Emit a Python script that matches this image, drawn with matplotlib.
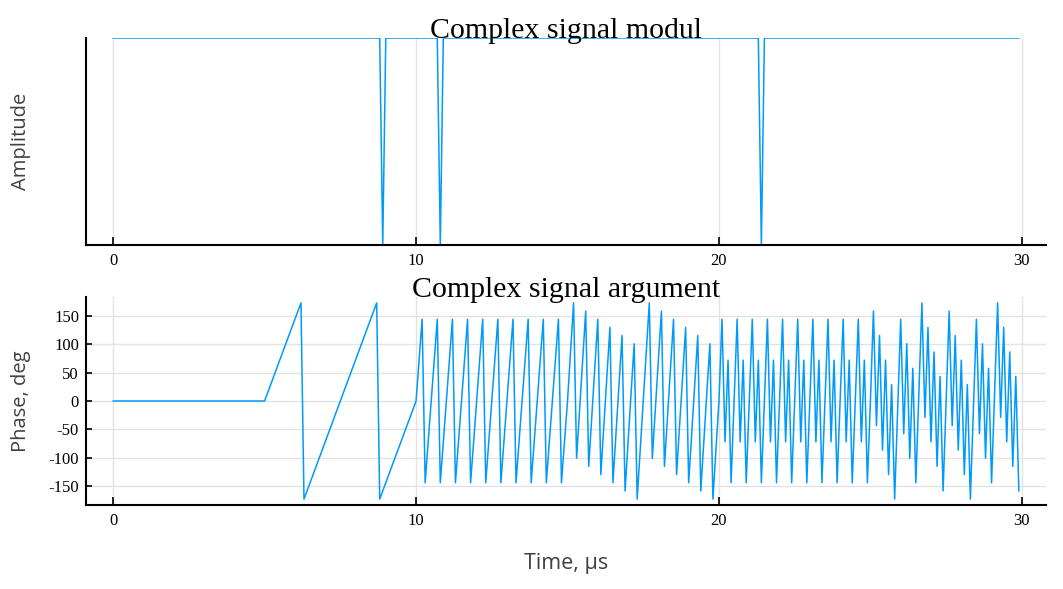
import matplotlib.pyplot as plt
import numpy as np

plt.rcParams['axes.unicode_minus'] = False

# Sampled complex signal, 0.1 us per sample, 300 samples (0 .. 29.9 us)
dt_us = 0.1
time_us = np.round(np.arange(300) * dt_us, 1)

# Samples where the modulus drops to zero
dip_times_us = [8.9, 10.8, 21.4]

# Wrapped phase (deg), read per 5 us block
phase_0_5 = [
    0.0, 0.0, 0.0, 0.0, 0.0, 0.0, 0.0, 0.0, 0.0, 0.0,
    0.0, 0.0, 0.0, 0.0, 0.0, 0.0, 0.0, 0.0, 0.0, 0.0,
    0.0, 0.0, 0.0, 0.0, 0.0, 0.0, 0.0, 0.0, 0.0, 0.0,
    0.0, 0.0, 0.0, 0.0, 0.0, 0.0, 0.0, 0.0, 0.0, 0.0,
    0.0, 0.0, 0.0, 0.0, 0.0, 0.0, 0.0, 0.0, 0.0, 0.0,
]
phase_5_10 = [
    0.0, 14.4, 28.8, 43.2, 57.6, 72.0, 86.4, 100.8, 115.2, 129.6,
    144.0, 158.4, 172.8, -172.8, -158.4, -144.0, -129.6, -115.2, -100.8, -86.4,
    -72.0, -57.6, -43.2, -28.8, -14.4, 0.0, 14.4, 28.8, 43.2, 57.6,
    72.0, 86.4, 100.8, 115.2, 129.6, 144.0, 158.4, 172.8, -172.8, -158.4,
    -144.0, -129.6, -115.2, -100.8, -86.4, -72.0, -57.6, -43.2, -28.8, -14.4,
]
phase_10_15 = [
    0.0, 72.0, 144.0, -144.0, -72.0, 0.0, 72.0, 144.0, -144.0, -72.0,
    0.0, 72.0, 144.0, -144.0, -72.0, 0.0, 72.0, 144.0, -144.0, -72.0,
    0.0, 72.0, 144.0, -144.0, -72.0, 0.0, 72.0, 144.0, -144.0, -72.0,
    0.0, 72.0, 144.0, -144.0, -72.0, 0.0, 72.0, 144.0, -144.0, -72.0,
    0.0, 72.0, 144.0, -144.0, -72.0, 0.0, 72.0, 144.0, -144.0, -72.0,
]
phase_15_20 = [
    0.0, 86.4, 172.8, -100.8, -14.4, 72.0, 158.4, -115.2, -28.8, 57.6,
    144.0, -129.6, -43.2, 43.2, 129.6, -144.0, -57.6, 28.8, 115.2, -158.4,
    -72.0, 14.4, 100.8, -172.8, -86.4,
    0.0, 86.4, 172.8, -100.8, -14.4, 72.0, 158.4, -115.2, -28.8, 57.6,
    144.0, -129.6, -43.2, 43.2, 129.6, -144.0, -57.6, 28.8, 115.2, -158.4,
    -72.0, 14.4, 100.8, -172.8, -86.4,
]
phase_20_25 = [
    0.0, 144.0, -72.0, 72.0, -144.0, 0.0, 144.0, -72.0, 72.0, -144.0,
    0.0, 144.0, -72.0, 72.0, -144.0, 0.0, 144.0, -72.0, 72.0, -144.0,
    0.0, 144.0, -72.0, 72.0, -144.0, 0.0, 144.0, -72.0, 72.0, -144.0,
    0.0, 144.0, -72.0, 72.0, -144.0, 0.0, 144.0, -72.0, 72.0, -144.0,
    0.0, 144.0, -72.0, 72.0, -144.0, 0.0, 144.0, -72.0, 72.0, -144.0,
]
phase_25_30 = [
    0.0, 158.4, -43.2, 115.2, -86.4, 72.0, -129.6, 28.8, -172.8, -14.4,
    144.0, -57.6, 100.8, -100.8, 57.6, -144.0, 14.4, 172.8, -28.8, 129.6,
    -72.0, 86.4, -115.2, 43.2, -158.4,
    0.0, 158.4, -43.2, 115.2, -86.4, 72.0, -129.6, 28.8, -172.8, -14.4,
    144.0, -57.6, 100.8, -100.8, 57.6, -144.0, 14.4, 172.8, -28.8, 129.6,
    -72.0, 86.4, -115.2, 43.2, -158.4,
]

phase_deg = np.array(phase_0_5 + phase_5_10 + phase_10_15
                     + phase_15_20 + phase_20_25 + phase_25_30)
amplitude = np.where(np.isin(time_us, dip_times_us), 0.0, 1.0)

x_ticks = [0, 10, 20, 30]
phase_ticks = [-150, -100, -50, 0, 50, 100, 150]

line_color = '#009AFA'
grid_color = '#e3e3e3'
serif = 'Liberation Serif'
sans = 'Open Sans'

W, H = 1063, 589
fig = plt.figure(figsize=(W / 100, H / 100), dpi=100)

def px_axes(left, top, right, bottom):
    return fig.add_axes([left / W, 1 - bottom / H, (right - left) / W, (bottom - top) / H])

ax1 = px_axes(86, 38, 1046, 245)
ax2 = px_axes(86, 297, 1046, 505)

margin = 0.03 * (time_us[-1] - time_us[0])
xlim = (time_us[0] - margin, time_us[-1] + margin)
ylab_x = (31 - 86) / 960

for ax in (ax1, ax2):
    ax.set_xlim(*xlim)
    ax.set_xticks(x_ticks)
    ax.set_axisbelow(True)
    for side in ('top', 'right'):
        ax.spines[side].set_visible(False)
    for side in ('left', 'bottom'):
        ax.spines[side].set_linewidth(1.5)
        ax.spines[side].set_color('black')
    ax.tick_params(axis='x', direction='in', length=6, width=1.2,
                   labelsize=12, pad=6)
    ax.tick_params(axis='y', direction='in', length=4, width=1.2,
                   labelsize=12, pad=5)
    for lbl in ax.get_xticklabels() + ax.get_yticklabels():
        lbl.set_fontfamily(serif)

# Top: modulus
ax1.plot(time_us, amplitude, color=line_color, linewidth=1.1)
ax1.set_ylim(0, 1)
ax1.set_yticks([])
ax1.grid(True, axis='x', color=grid_color, linewidth=1.0)
ax1.set_title('Complex signal modul', fontfamily=serif, fontsize=21.5, y=1.0, pad=0)
ax1.set_ylabel('Amplitude', fontfamily=sans, fontsize=14.5, color='#404040')
ax1.yaxis.set_label_coords(ylab_x, 0.5)

# Bottom: argument
ax2.plot(time_us, phase_deg, color=line_color, linewidth=1.1)
pmargin = 0.03 * (phase_deg.max() - phase_deg.min())
ax2.set_ylim(phase_deg.min() - pmargin, phase_deg.max() + pmargin)
ax2.set_yticks(phase_ticks)
for lbl in ax2.get_yticklabels():
    lbl.set_fontfamily(serif)
ax2.grid(True, color=grid_color, linewidth=1.0)
ax2.set_title('Complex signal argument', fontfamily=serif, fontsize=21.5, y=1.0, pad=0)
ax2.set_ylabel('Phase, deg', fontfamily=sans, fontsize=14.5, color='#404040')
ax2.yaxis.set_label_coords(ylab_x, 0.5)
ax2.set_xlabel('Time, µs', fontfamily=sans, fontsize=15.5, color='#404040')
ax2.xaxis.set_label_coords(0.5, (505 - 553) / 208)

fig.savefig('out.png', dpi=100, facecolor='white')
